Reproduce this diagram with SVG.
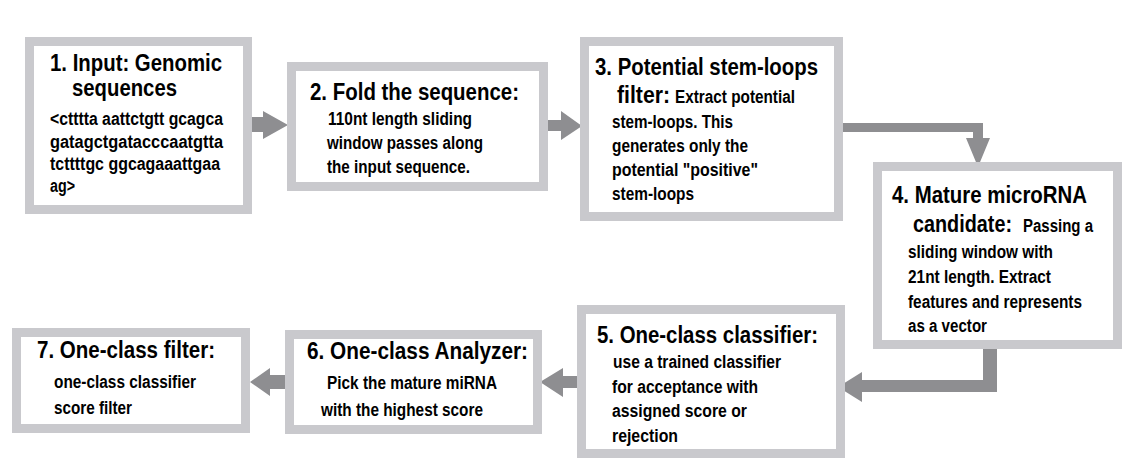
<svg xmlns="http://www.w3.org/2000/svg" width="1142" height="476" viewBox="0 0 1142 476">
<style>
.box{fill:#fff;stroke:#c9c9cd;stroke-width:9}
.arr{fill:#8e8e91;stroke:none}
text{font-family:"Liberation Sans",Arial,sans-serif;font-weight:bold;fill:#000}
.t{font-size:23px}
.b{font-size:18px}
</style>
<rect width="1142" height="476" fill="#fff"/>
<g id="connectors">
<polygon class="arr" points="252,117 263,117 263,111 288,125 263,139 263,132 252,132"/>
<polygon class="arr" points="548,120 561,120 561,111 582,126 561,140 561,131 548,131"/>
<polygon class="arr" points="843,123 983,123 983,138 990,138 978,167 966,138 973,138 973,132 843,132"/>
<polygon class="arr" points="983,349 997,349 997,392 862,392 862,402 838,387 862,372 862,380 983,380"/>
<polygon class="arr" points="577,376 563,376 563,368 540,382 563,397 563,388 577,388"/>
<polygon class="arr" points="285,375 270,375 270,368 250,382 270,396 270,389 285,389"/>
</g>
<g id="node1">
<rect class="box" x="29.5" y="41.5" width="218" height="168"/>
<text class="t" x="50" y="71" textLength="172" lengthAdjust="spacingAndGlyphs">1. Input: Genomic</text>
<text class="t" x="72" y="96" textLength="105" lengthAdjust="spacingAndGlyphs">sequences</text>
<text class="b" x="50" y="125" textLength="173" lengthAdjust="spacingAndGlyphs">&lt;ctttta aattctgtt gcagca</text>
<text class="b" x="50" y="148" textLength="173" lengthAdjust="spacingAndGlyphs">gatagctgatacccaatgtta</text>
<text class="b" x="50" y="170" textLength="170" lengthAdjust="spacingAndGlyphs">tcttttgc ggcagaaattgaa</text>
<text class="b" x="50" y="192" textLength="25" lengthAdjust="spacingAndGlyphs">ag&gt;</text>
</g>
<g id="node2">
<rect class="box" x="291.5" y="66.5" width="252" height="120"/>
<text class="t" x="310" y="100" textLength="209" lengthAdjust="spacingAndGlyphs">2. Fold the sequence:</text>
<text class="b" x="328" y="125" textLength="144" lengthAdjust="spacingAndGlyphs">110nt length sliding</text>
<text class="b" x="327" y="149" textLength="156" lengthAdjust="spacingAndGlyphs">window passes along</text>
<text class="b" x="327" y="173" textLength="143" lengthAdjust="spacingAndGlyphs">the input sequence.</text>
</g>
<g id="node3">
<rect class="box" x="584.5" y="41.5" width="254" height="175"/>
<text class="t" x="595" y="75" textLength="223" lengthAdjust="spacingAndGlyphs">3. Potential stem-loops</text>
<text class="t" x="617" y="103" textLength="53" lengthAdjust="spacingAndGlyphs">filter:</text>
<text class="b" x="675" y="103" textLength="120" lengthAdjust="spacingAndGlyphs">Extract potential</text>
<text class="b" x="612" y="128" textLength="121" lengthAdjust="spacingAndGlyphs">stem-loops. This</text>
<text class="b" x="612" y="152" textLength="136" lengthAdjust="spacingAndGlyphs">generates only the</text>
<text class="b" x="612" y="176" textLength="146" lengthAdjust="spacingAndGlyphs">potential "positive"</text>
<text class="b" x="612" y="200" textLength="82" lengthAdjust="spacingAndGlyphs">stem-loops</text>
</g>
<g id="node4">
<rect class="box" x="877.5" y="166.5" width="240" height="178"/>
<text class="t" x="892" y="203" textLength="195" lengthAdjust="spacingAndGlyphs">4. Mature microRNA</text>
<text class="t" x="913" y="232" textLength="99" lengthAdjust="spacingAndGlyphs">candidate:</text>
<text class="b" x="1023" y="232" textLength="70" lengthAdjust="spacingAndGlyphs">Passing a</text>
<text class="b" x="908" y="258" textLength="145" lengthAdjust="spacingAndGlyphs">sliding window with</text>
<text class="b" x="908" y="283" textLength="143" lengthAdjust="spacingAndGlyphs">21nt length. Extract</text>
<text class="b" x="908" y="308" textLength="174" lengthAdjust="spacingAndGlyphs">features and represents</text>
<text class="b" x="908" y="332" textLength="79" lengthAdjust="spacingAndGlyphs">as a vector</text>
</g>
<g id="node5">
<rect class="box" x="581.5" y="309.5" width="259" height="144"/>
<text class="t" x="597" y="343" textLength="221" lengthAdjust="spacingAndGlyphs">5. One-class classifier:</text>
<text class="b" x="613" y="368" textLength="168" lengthAdjust="spacingAndGlyphs">use a trained classifier</text>
<text class="b" x="612" y="393" textLength="146" lengthAdjust="spacingAndGlyphs">for acceptance with</text>
<text class="b" x="612" y="417" textLength="135" lengthAdjust="spacingAndGlyphs">assigned score or</text>
<text class="b" x="612" y="442" textLength="66" lengthAdjust="spacingAndGlyphs">rejection</text>
</g>
<g id="node6">
<rect class="box" x="289.5" y="334.5" width="248" height="95"/>
<text class="t" x="307" y="359" textLength="221" lengthAdjust="spacingAndGlyphs">6. One-class Analyzer:</text>
<text class="b" x="327" y="389" textLength="170" lengthAdjust="spacingAndGlyphs">Pick the mature miRNA</text>
<text class="b" x="321" y="416" textLength="162" lengthAdjust="spacingAndGlyphs">with the highest score</text>
</g>
<g id="node7">
<rect class="box" x="16.5" y="332.5" width="229" height="96"/>
<text class="t" x="37" y="358" textLength="178" lengthAdjust="spacingAndGlyphs">7. One-class filter:</text>
<text class="b" x="54" y="388" textLength="142" lengthAdjust="spacingAndGlyphs">one-class classifier</text>
<text class="b" x="54" y="414" textLength="78" lengthAdjust="spacingAndGlyphs">score filter</text>
</g>
</svg>
